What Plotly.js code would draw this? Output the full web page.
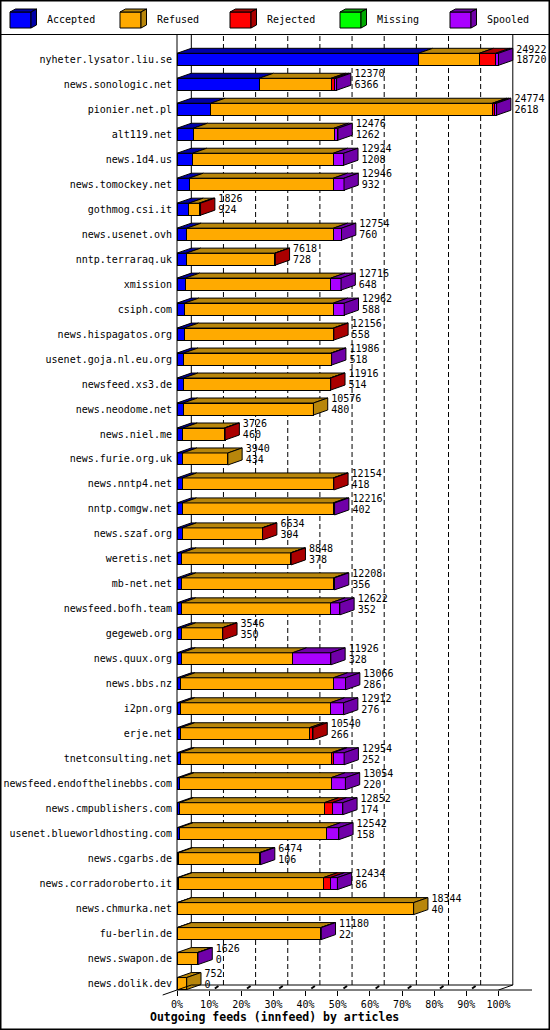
<!DOCTYPE html>
<html><head><meta charset="utf-8">
<script src="https://cdn.plot.ly/plotly-3.0.1.min.js"></script>
<style>html,body{margin:0;padding:0;background:#fff}</style>
</head><body><div id="chart" style="width:550px;height:1030px"></div>
<script>
const hosts = ['nyheter.lysator.liu.se','news.sonologic.net','pionier.net.pl','alt119.net','news.1d4.us','news.tomockey.net','gothmog.csi.it','news.usenet.ovh','nntp.terraraq.uk','xmission','csiph.com','news.hispagatos.org','usenet.goja.nl.eu.org','newsfeed.xs3.de','news.neodome.net','news.niel.me','news.furie.org.uk','news.nntp4.net','nntp.comgw.net','news.szaf.org','weretis.net','mb-net.net','newsfeed.bofh.team','gegeweb.org','news.quux.org','news.bbs.nz','i2pn.org','erje.net','tnetconsulting.net','newsfeed.endofthelinebbs.com','news.cmpublishers.com','usenet.blueworldhosting.com','news.cgarbs.de','news.corradoroberto.it','news.chmurka.net','fu-berlin.de','news.swapon.de','news.dolik.dev'];
const accepted = [18720,6366,2618,1262,1208,932,924,760,728,648,588,558,518,514,480,460,434,418,402,394,378,356,352,350,328,286,276,266,252,220,174,158,106,86,40,22,0,0];
const refused  = [4714,5580,21824,10910,10908,11184,790,11364,6860,11268,11529,11558,11420,11352,10096,3206,3506,11686,11694,6200,8420,11772,11562,3156,8612,11833,11610,9992,11713,11718,11247,11418,6278,11257,18304,11118,1576,752];
const rejected = [1271,232,155,0,0,0,112,0,30,0,0,40,0,50,0,60,0,50,0,40,50,0,0,40,0,0,0,282,128,0,618,0,0,543,0,0,0,0];
const missing  = [0,0,0,0,0,0,0,0,0,0,0,0,0,0,0,0,0,0,0,0,0,0,0,0,0,0,0,0,0,0,0,0,0,0,0,0,0,0];
const spooled  = [217,192,177,304,808,830,0,630,0,800,845,0,48,0,0,0,0,0,120,0,0,80,708,0,2986,947,1026,0,861,1116,813,966,90,548,0,40,50,0];
const totals   = [24922,12370,24774,12476,12924,12946,1826,12754,7618,12716,12962,12156,11986,11916,10576,3726,3940,12154,12216,6634,8848,12208,12622,3546,11926,13066,12912,10540,12954,13054,12852,12542,6474,12434,18344,11180,1626,752];
const seriesNames = ['Accepted','Refused','Rejected','Missing','Spooled'];
const tickPercents = [0,10,20,30,40,50,60,70,80,90,100];
const titleText = 'Outgoing feeds (innfeed) by articles';

const frontColors = ['#0000FF','#FFAA00','#FF0000','#00FF00','#AA00FF'];
const darkColors  = ['#0000A8','#B8860B','#AA0000','#00AA00','#7000A8'];
const FONT = 'DejaVu Sans Mono, Liberation Mono, monospace';

// geometry
const W=550, H=1030, ML=177, MR=1, MT=35, MB=40;
const PW=W-ML-MR, PH=H-MT-MB;
const FULL = Math.max(...totals);
const FRONT_PX = 321.5;
const PXX = FRONT_PX/FULL;
const XMAX = PW/PXX;
const ROW_PX = 24.98, ROW0 = 59.3;
const yTopVal = (MT-ROW0)/ROW_PX, yBotVal = (H-MB-ROW0)/ROW_PX;
const DX = 14.3/PXX, DY = 5/ROW_PX, HALF = 6/ROW_PX;
const LBL = 3.5/PXX;
const X = px => (px-ML)/PW;
const Y = py => (H-MB-py)/PH;
const xp = v => v/XMAX;              // data x -> paper
const rows = hosts.map((h,i)=>i);
const series = [accepted, refused, rejected, missing, spooled];

const traces = [];
series.forEach((vals,s)=>{
  traces.push({type:'bar', orientation:'h', name:seriesNames[s], y:rows,
    x:vals.map(v=>v>0?v:null), width:2*HALF,
    marker:{color:frontColors[s], line:{color:'#000', width:1}},
    showlegend:false, hoverinfo:'x+name'});
});
const topX=series.map(()=>[]), topY=series.map(()=>[]);
const sideX=series.map(()=>[]), sideY=series.map(()=>[]);
rows.forEach(i=>{
  let c=0, last=-1;
  const yT=i-HALF, yB=i+HALF;
  series.forEach((vals,s)=>{
    const v=vals[i]; if(!(v>0)) return;
    const c0=c, c1=c+v; c=c1; last=s;
    topX[s].push(c0,c1,c1+DX,c0+DX,c0,null);
    topY[s].push(yT,yT,yT-DY,yT-DY,yT,null);
  });
  if(last>=0){
    sideX[last].push(c,c+DX,c+DX,c,c,null);
    sideY[last].push(yT,yT-DY,yB-DY,yB,yT,null);
  }
});
series.forEach((v,s)=>{
  [[topX[s],topY[s]],[sideX[s],sideY[s]]].forEach(([xx,yy])=>{
    if(!xx.length) return;
    traces.push({type:'scatter', mode:'lines', x:xx, y:yy, fill:'toself',
      fillcolor:darkColors[s], line:{color:'#000', width:1}, connectgaps:false,
      showlegend:false, hoverinfo:'skip'});
  });
});
traces.push({type:'scatter', mode:'text', x:totals.map(t=>t+DX+LBL), y:rows.map(i=>i-9.3/ROW_PX),
  text:totals.map(String), textposition:'middle right', cliponaxis:false,
  textfont:{family:FONT, size:10, color:'#000'}, showlegend:false, hoverinfo:'skip'});
traces.push({type:'scatter', mode:'text', x:totals.map(t=>t+DX+LBL), y:rows.map(i=>i+1.6/ROW_PX),
  text:accepted.map(String), textposition:'middle right', cliponaxis:false,
  textfont:{family:FONT, size:10, color:'#000'}, showlegend:false, hoverinfo:'skip'});

const shapes = [];
const annotations = [];
// back grid
tickPercents.forEach(p=>{
  const xv = FULL*p/100 + DX;
  shapes.push({type:'line', xref:'paper', yref:'paper', x0:xp(xv), x1:xp(xv), y0:Y(985), y1:1,
    line:{color:'#000', width:1, dash:(p===0||p===100)?'solid':'5px,3px'}, layer:'below'});
});
// front-left axis
shapes.push({type:'line', xref:'paper', yref:'paper', x0:0, x1:0, y0:0, y1:1, line:{color:'#000', width:1}, layer:'below'});
// floor
const backFloor = Y(ROW0 + yBotVal*ROW_PX - 5);
shapes.push({type:'line', xref:'paper', yref:'paper', x0:0, x1:X(532), y0:0, y1:0, line:{color:'#000', width:1}});
shapes.push({type:'line', xref:'paper', yref:'paper', x0:xp(DX), x1:xp(FULL+DX), y0:backFloor, y1:backFloor, line:{color:'#000', width:1}});
shapes.push({type:'line', xref:'paper', yref:'paper', x0:xp(-DX), x1:xp(DX), y0:Y(995), y1:backFloor, line:{color:'#000', width:1}});
shapes.push({type:'line', xref:'paper', yref:'paper', x0:xp(FULL), x1:xp(FULL+DX), y0:0, y1:backFloor, line:{color:'#000', width:1}});
tickPercents.slice(1,10).forEach(p=>{
  const xv = FULL*p/100;
  shapes.push({type:'line', xref:'paper', yref:'paper', x0:xp(xv+DX*0.4), x1:xp(xv+DX*0.65), y0:Y(988.5), y1:Y(986), line:{color:'#000', width:2}});
});
// legend
function path(pts){ return 'M'+pts.map(p=>X(p[0])+','+Y(p[1])).join('L')+'Z'; }
seriesNames.forEach((n,s)=>{
  const bx = 10+110*s;
  shapes.push({type:'path', xref:'paper', yref:'paper', path:path([[bx,12],[bx+21,12],[bx+21,28],[bx,28]]),
    fillcolor:frontColors[s], line:{color:'#000', width:1}});
  shapes.push({type:'path', xref:'paper', yref:'paper', path:path([[bx,12],[bx+21,12],[bx+26.5,9],[bx+5.5,9]]),
    fillcolor:darkColors[s], line:{color:'#000', width:1}});
  shapes.push({type:'path', xref:'paper', yref:'paper', path:path([[bx+21,12],[bx+26.5,9],[bx+26.5,25],[bx+21,28]]),
    fillcolor:darkColors[s], line:{color:'#000', width:1}});
  annotations.push({xref:'paper', yref:'paper', x:X(bx+35), y:Y(20), xanchor:'left', yanchor:'middle',
    text:n, showarrow:false, font:{family:FONT, size:10, color:'#000'}});
});
shapes.push({type:'line', xref:'paper', yref:'paper', x0:X(0), x1:X(550), y0:Y(34.5), y1:Y(34.5), line:{color:'#000', width:1}});
shapes.push({type:'rect', xref:'paper', yref:'paper', x0:X(0.75), x1:X(549.25), y0:Y(0.75), y1:Y(1029.25), line:{color:'#000', width:1.5}});
annotations.push({xref:'paper', yref:'paper', x:X(274), y:Y(1017), xanchor:'center', yanchor:'middle',
  text:'<b>'+titleText+'</b>', showarrow:false, font:{family:FONT, size:11.5, color:'#000'}});

const layout = {
  width:W, height:H, margin:{l:ML, r:MR, t:MT, b:MB, pad:0},
  paper_bgcolor:'#fff', plot_bgcolor:'#fff', barmode:'stack', bargap:0,
  showlegend:false, hovermode:false,
  font:{family:FONT, size:10, color:'#000'},
  xaxis:{range:[0,XMAX], tickvals:tickPercents.map(p=>FULL*p/100), ticktext:tickPercents.map(p=>p+'%'),
    ticks:'outside', ticklen:5, tickcolor:'#000', tickwidth:1, showgrid:false, zeroline:false, showline:false,
    tickfont:{family:FONT, size:10, color:'#000'}, fixedrange:true},
  yaxis:{range:[yBotVal, yTopVal], tickvals:rows, ticktext:hosts, ticks:'', showgrid:false, zeroline:false,
    showline:false, ticklabelstandoff:4, tickfont:{family:FONT, size:10, color:'#000'}, fixedrange:true},
  shapes, annotations
};
Plotly.newPlot('chart', traces, layout, {displayModeBar:false, staticPlot:true});
</script></body></html>
